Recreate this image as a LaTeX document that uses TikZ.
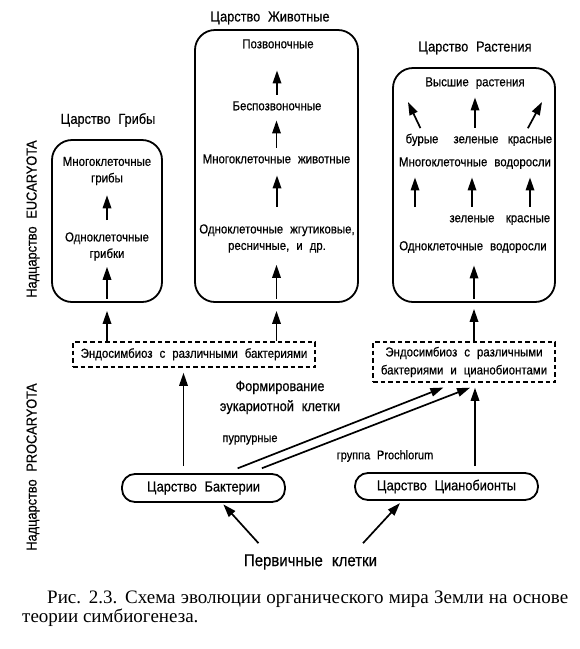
\documentclass[tikz,border=0pt]{standalone}
\usepackage{fontspec}
\setmainfont{Liberation Serif}
\newfontfamily\cond[FakeStretch=0.88,WordSpace=2.2,FakeBold=0.5]{Liberation Sans}
\usetikzlibrary{arrows.meta}
\begin{document}
\begin{tikzpicture}[x=1pt,y=-1pt,
  every node/.style={inner sep=0pt},
  txt/.style={font=\cond\fontsize{13}{16.5}\selectfont, text height=9.5pt, text depth=3pt},
  txtm/.style={font=\cond\fontsize{13}{16.5}\selectfont, align=center},
  ttl/.style={font=\cond\fontsize{14.5}{20}\selectfont},
  small/.style={font=\cond\fontsize{12.5}{14}\selectfont},
  kbox/.style={draw, line width=1.8pt, rounded corners=20pt},
  pill/.style={draw, line width=1.8pt, rounded corners=13pt},
  dbox/.style={draw, line width=1.6pt, dash pattern=on 4.5pt off 3pt},
  arr/.style={line width=1.7pt, -{Triangle[length=13pt,width=8.5pt]}},
  capt/.style={font=\fontsize{19}{21}\selectfont, anchor=base west}
]
\useasboundingbox[fill=white] (0,0) rectangle (580,649);

% kingdom boxes
\node[kbox, minimum width=110pt, minimum height=162pt] (fungi) at (107,221) {};
\node[kbox, minimum width=163pt, minimum height=272pt] (anim) at (276.5,166) {};
\node[kbox, minimum width=162pt, minimum height=234pt] (plant) at (474,185) {};

% titles
\node[ttl] (tf) at (108,120) {Царство Грибы};
\node[ttl] (ta) at (270,18) {Царство Животные};
\node[ttl] (tp) at (475,48) {Царство Растения};

% fungi
\node[txtm] (f2) at (107,171) {Многоклеточные\\грибы};
\node[txtm] (f1) at (107,246.5) {Одноклеточные\\грибки};
\draw[arr, shorten <=12pt, shorten >=10pt] (f1) -- (f2);
\draw[arr, shorten <=4pt, shorten >=6pt] (fungi.south) -- (f1.south);

% animals
\node[txt] (a4) at (278,45) {Позвоночные};
\node[txt] (a3) at (277,107) {Беспозвоночные};
\node[txt] (a2) at (276.5,160) {Многоклеточные животные};
\node[txtm] (a1) at (277,238.5) {Одноклеточные жгутиковые,\\ресничные, и др.};
\draw[arr, shorten <=6pt, shorten >=19pt] (a3.north) -- (a3.north |- a4.south);
\draw[arr, shorten <=6pt, shorten >=7pt] (a2.north) -- (a2.north |- a3.south);
\draw[arr, shorten <=17pt, shorten >=9pt] (a1.north) -- (a1.north |- a2.south);
\draw[arr, shorten <=4pt, shorten >=12pt] (anim.south) -- (anim.south |- a1.south);

% plants
\node[txt] (p5) at (475,83) {Высшие растения};
\node[txt] (pb) at (422,140) {бурые};
\node[txt] (pz2) at (476,140) {зеленые};
\node[txt] (pk2) at (530,140) {красные};
\node[txt] (p3) at (475,163) {Многоклеточные водоросли};
\node[txt] (pz1) at (472,219) {зеленые};
\node[txt] (pk1) at (528,219) {красные};
\node[txt] (p1) at (473,247) {Одноклеточные водоросли};
\coordinate (hl) at (408,102);
\coordinate (hr) at (542,102);
\coordinate (lb) at (415,207);
\draw[arr, shorten <=6pt] ([xshift=1pt]pb.north) -- (hl);
\draw[arr, shorten <=6pt, shorten >=8pt] (p5.south |- pz2.north) -- (p5.south);
\draw[arr, shorten <=6pt] ([xshift=-5pt]pk2.north) -- (hr);
\draw[arr, shorten >=8pt] (lb) -- (lb |- p3.south);
\draw[arr, shorten <=6pt, shorten >=8pt] (pz1.north) -- (pz1.north |- p3.south);
\draw[arr, shorten <=6pt, shorten >=8pt] ([xshift=2pt]pk1.north) -- ([xshift=2pt]pk1.north |- p3.south);
\draw[arr, shorten <=4pt, shorten >=12pt] (plant.south) -- (plant.south |- p1.south);

% endosymbiosis boxes
\node[dbox, txt, minimum width=242pt, minimum height=25pt] (e1) at (194,354.5) {Эндосимбиоз с различными бактериями};
\node[dbox, txtm, font=\cond\fontsize{13}{18}\selectfont, minimum width=182pt, minimum height=40pt] (e2) at (464,362) {Эндосимбиоз с различными\\бактериями и цианобионтами};
\draw[arr, shorten >=8pt] (fungi.south |- e1.north) -- (fungi.south);
\draw[arr, shorten >=8pt] (anim.south |- e1.north) -- (anim.south);
\draw[arr, shorten >=6pt] (plant.south |- e2.north) -- (plant.south);

% prokaryote kingdoms
\node[pill, ttl, minimum width=163pt, minimum height=28pt] (bact) at (203.5,488) {Царство Бактерии};
\node[pill, ttl, minimum width=183pt, minimum height=27pt] (cyan) at (446.5,486.5) {Царство Цианобионты};
\draw[arr, shorten <=7pt, shorten >=5pt] ([xshift=-20pt]bact.north) -- ([xshift=-20pt]bact.north |- e1.south);
\draw[arr, shorten <=13pt, shorten >=13pt] ([xshift=22pt]bact.north) -- ([xshift=-8.5pt]e2.south);
\draw[arr, shorten <=13.5pt, shorten >=13.5pt] ([xshift=45.8pt]bact.north) -- ([xshift=18.7pt]e2.south);
\draw[arr, shorten <=6pt, shorten >=5pt] ([xshift=28.5pt]cyan.north) -- ([xshift=28.5pt]cyan.north |- e2.south);

% labels
\node[ttl, align=center] (form) at (280,397.5) {Формирование\\эукариотной клетки};
\node[small] (purp) at (250,440) {пурпурные};
\node[small] (proch) at (385,456) {группа Prochlorum};
\node[font=\cond\fontsize{17}{19}\selectfont] (perv) at (310.5,562) {Первичные клетки};
\draw[arr, shorten >=2pt] ([xshift=-52pt,yshift=11pt]perv.north) -- ([xshift=18.5pt]bact.south);
\draw[arr, shorten >=3pt] ([xshift=52.5pt,yshift=11pt]perv.north) -- ([xshift=-44.5pt]cyan.south);

% side labels
\node[ttl, rotate=90] (eu) at (33,219) {Надцарство EUCARYOTA};
\node[ttl, rotate=90] (pro) at (33,467) {Надцарство PROCARYOTA};

% caption
\node[capt] (cap1) at (47,603) {\makebox[521pt][s]{Рис. 2.3. Схема эволюции органического мира Земли на основе}};
\node[capt] (cap2) at (22,622) {теории симбиогенеза.};
\end{tikzpicture}
\end{document}
